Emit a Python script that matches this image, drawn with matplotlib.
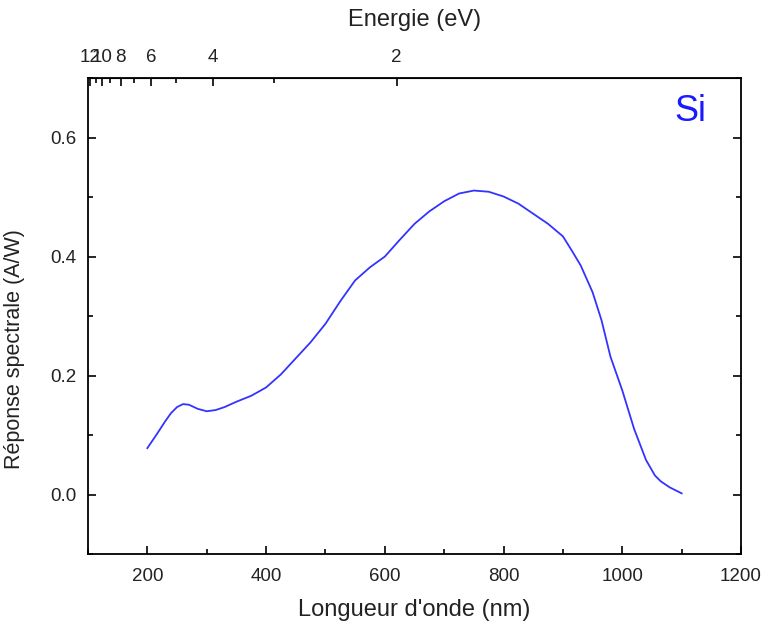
import matplotlib
matplotlib.use("Agg")
import matplotlib.pyplot as plt
from matplotlib.ticker import MultipleLocator, FixedLocator

plt.rcParams["font.family"] = ["Liberation Sans", "DejaVu Sans"]

# spectral response of Si
wavelength_nm = [200, 215, 230, 240, 250, 260, 270, 285, 300, 315, 330, 350, 375,
                 400, 425, 450, 475, 500, 525, 550, 575, 600, 625, 650, 675, 700,
                 725, 750, 775, 800, 825, 850, 875, 900, 915, 930, 950, 965, 980,
                 1000, 1020, 1040, 1055, 1065, 1080, 1100]
response_aw = [0.078, 0.100, 0.123, 0.137, 0.147, 0.152, 0.151, 0.144, 0.140, 0.142,
               0.147, 0.156, 0.166, 0.180, 0.202, 0.229, 0.256, 0.287, 0.325, 0.360,
               0.382, 0.400, 0.428, 0.455, 0.476, 0.493, 0.506, 0.511, 0.509, 0.501,
               0.489, 0.472, 0.455, 0.434, 0.410, 0.385, 0.340, 0.293, 0.232,
               0.175, 0.110, 0.058, 0.032, 0.022, 0.012, 0.002]

energy_major = [2, 4, 6, 8, 10, 12]
energy_minor = [3, 5, 7, 9, 11]

HC = 1240.0  # eV*nm


def nm_to_ev(x):
    return HC / x


def ev_to_nm(e):
    return HC / e


fig = plt.figure(figsize=(7.63, 6.30), dpi=100)
ax = fig.add_axes([0.1153, 0.1206, 0.9712 - 0.1153, 0.876 - 0.1206])

ax.plot(wavelength_nm, response_aw, color="#3333ff", lw=1.3)

ax.set_xlim(100, 1200)
ax.set_ylim(-0.1, 0.7)
ax.xaxis.set_major_locator(MultipleLocator(200))
ax.xaxis.set_minor_locator(MultipleLocator(100))
ax.yaxis.set_major_locator(FixedLocator([0.0, 0.2, 0.4, 0.6]))
ax.yaxis.set_minor_locator(MultipleLocator(0.1))
ax.yaxis.set_major_formatter(plt.FuncFormatter(lambda v, p: f"{v:.1f}"))
ax.tick_params(which="both", direction="in", right=True, labelsize=13.5,
               width=1.2, labelcolor="#222222")
ax.tick_params(axis="x", pad=10)
ax.tick_params(axis="y", pad=8)
ax.tick_params(which="major", length=6)
ax.tick_params(which="minor", length=3.5)
for s in ax.spines.values():
    s.set_linewidth(1.3)

ax.set_xlabel("Longueur d'onde (nm)", fontsize=17, labelpad=10, color="#222222")
ax.set_ylabel("Réponse spectrale (A/W)", fontsize=15.5, color="#222222")
ax.yaxis.set_label_coords(-0.096, 0.43)

ax.text(0.922, 0.93, "Si", transform=ax.transAxes, color="#1a1aff",
        fontsize=26, ha="center", va="center")

sec = ax.secondary_xaxis("top", functions=(nm_to_ev, ev_to_nm))
sec.xaxis.set_major_locator(FixedLocator(energy_major))
sec.xaxis.set_minor_locator(FixedLocator(energy_minor))
sec.tick_params(which="both", direction="in", labelsize=13.5, width=1.2,
                labelcolor="#222222", pad=9)
sec.tick_params(which="major", length=6)
sec.tick_params(which="minor", length=3.5)
sec.set_xlabel("Energie (eV)", fontsize=17, labelpad=16, color="#222222")

fig.savefig("out.png", dpi=100)
